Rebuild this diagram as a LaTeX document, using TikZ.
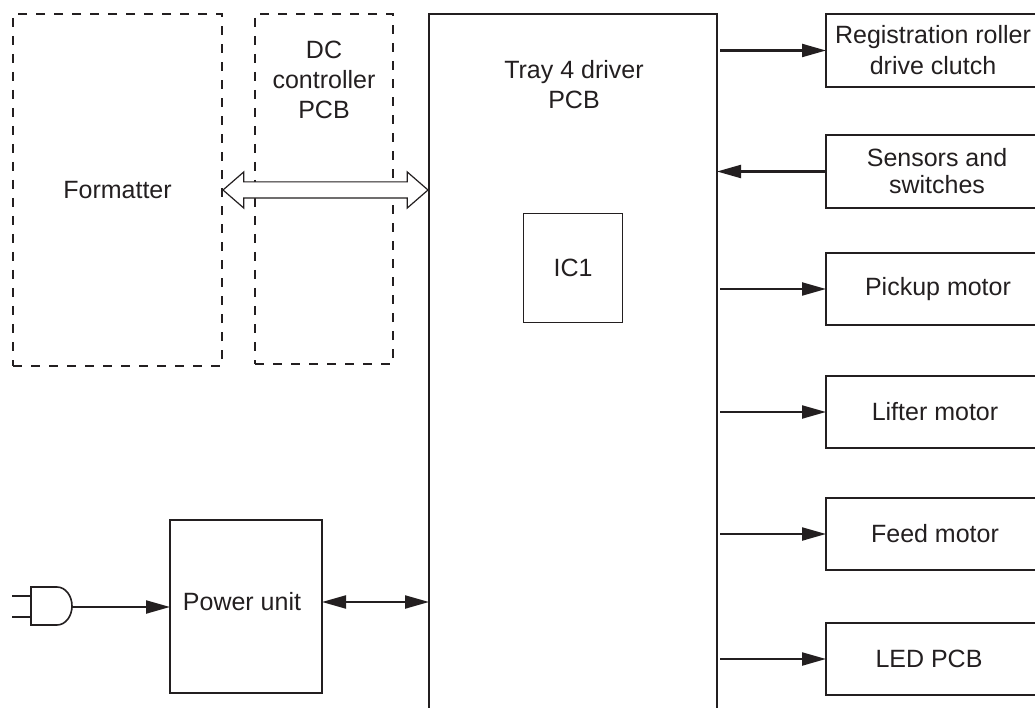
\documentclass[tikz,border=0pt]{standalone}
\usepackage{fontspec}
\setmainfont{Liberation Sans}
\usetikzlibrary{arrows.meta,shapes.arrows}
\definecolor{diagink}{RGB}{35,31,32}

\tikzset{
  blockbox/.style={draw=diagink,line width=2.2pt,outer sep=0pt,inner sep=0pt,align=center,text=diagink,
    font=\fontsize{25}{31}\selectfont},
  dashbox/.style={blockbox,dash pattern=on 9pt off 9pt,line width=2pt},
  sidebox/.style={blockbox,minimum width=214pt,minimum height=72.5pt},
  plaintext/.style={text=diagink,align=center,inner sep=0pt,font=\fontsize{25}{30}\selectfont},
  conn/.style={draw=diagink,line width=2.2pt,-{Triangle[length=24pt,width=13pt]}},
  twoway/.style={conn,{Triangle[length=24pt,width=13pt]}-{Triangle[length=24pt,width=13pt]}},
}

\begin{document}
\begin{tikzpicture}[x=1pt,y=-1pt]
  \useasboundingbox (0,0) rectangle (1035,708);
  % left side
  \node[dashbox,minimum width=209pt,minimum height=352pt] (formatter) at (117.5,190) {Formatter};
  \node[dashbox,minimum width=138pt,minimum height=350pt] (dcpcb) at (324,189) {};
  \node[plaintext] (dclabel) at (324,80) {DC\\controller\\PCB};
  \node[blockbox,minimum width=152pt,minimum height=173pt] (power) at (246,606.5) {\raisebox{10pt}{Power unit\hspace*{8pt}}};
  % driver board
  \node[blockbox,minimum width=288pt,minimum height=716pt] (tray) at (573,372) {};
  \node[plaintext] (traylabel) at (574,85) {Tray 4 driver\\PCB};
  \node[blockbox,line width=1pt,minimum width=99pt,minimum height=108pt] (ic) at (573,268) {IC1};
  % right column
  \node[sidebox] (clutch) at (933,50.5) {Registration roller\\drive clutch};
  \node[sidebox,font=\fontsize{25}{27}\selectfont] (sensors) at (933,171.5) {\hspace*{8pt}Sensors and\\\hspace*{8pt}switches};
  \node[sidebox] (pickup) at (933,289) {\hspace*{10pt}Pickup motor};
  \node[sidebox] (lifter) at (933,412) {\hspace*{4pt}Lifter motor};
  \node[sidebox] (feed) at (933,534) {\hspace*{4pt}Feed motor};
  \node[sidebox] (led) at (933,659) {LED PCB\hspace*{8pt}};
  % data bus
  \node[double arrow,draw=diagink,fill=white,line width=1.2pt,inner sep=0pt,outer sep=0pt,
    minimum height=205pt,double arrow head extend=10pt,
    double arrow head indent=0pt,double arrow tip angle=82] (bus) at (325.5,190) {\rule{0pt}{15pt}};
  % connectors
  \foreach \target in {clutch,pickup,lifter,feed,led}
    \draw[conn,shorten <=3pt] (tray.east |- \target.west) -- (\target.west);
  \draw[conn] (sensors.west) -- (tray.east |- sensors.west);
  \coordinate (powerout) at ([yshift=4.5pt]power.east);
  \draw[twoway] (powerout) -- (tray.west |- powerout);
  % plug
  \coordinate (plug) at (72,607);
  \draw[diagink,line width=1.6pt,fill=white] (31,587) -- (57,587) arc (-90:90:15 and 19) -- (31,625) -- cycle;
  \draw[diagink,line width=1.2pt] (12,596) -- (31,596) (12,617) -- (31,617);
  \draw[conn] (plug) -- (power.west |- plug);
\end{tikzpicture}
\end{document}
